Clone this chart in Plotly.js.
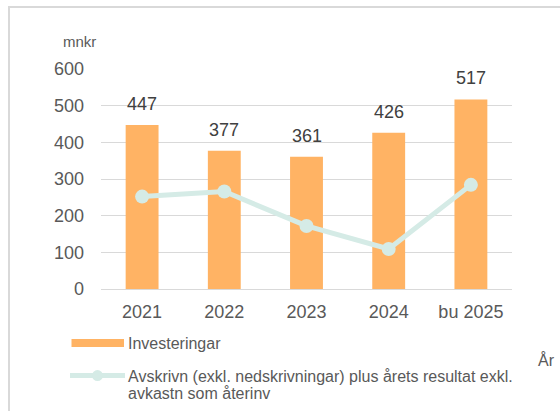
<!DOCTYPE html>
<html>
<head>
<meta charset="utf-8">
<script src="https://cdn.plot.ly/plotly-3.0.1.min.js"></script>
<style>
  html, body { margin: 0; padding: 0; background: #fff; }
  #wrap { position: relative; width: 560px; height: 411px; overflow: hidden; }
  #chart { width: 560px; height: 411px; }
  #frame { position: absolute; left: 8px; top: 6px; width: 600px; height: 500px;
           border-top: 2px solid #d9d9d9; border-left: 2px solid #d9d9d9; pointer-events: none; }
</style>
</head>
<body>
<div id="wrap">
  <div id="chart"></div>
  <div id="frame"></div>
</div>
<script>
// ---- data ----
const categories = ["2021", "2022", "2023", "2024", "bu 2025"];
const investeringar = [447, 377, 361, 426, 517];
const avskrivn = [252, 266, 172, 109, 284];
const seriesNames = ["Investeringar", "Avskrivn (exkl. nedskrivningar) plus årets resultat exkl.", "avkastn som återinv"];
const yTicks = [0, 100, 200, 300, 400, 500, 600];
const yUnit = "mnkr";
const xUnit = "År";

// ---- styles ----
const FONT = "Liberation Sans, Arial, sans-serif";
const barColor = "#FFB364";
const lineColor = "#D5EBE6";
const gridColor = "#D9D9D9";
const tickColor = "#595959";
const labelColor = "#404040";

// plot area in pixels
const L = 101, R = 512, T = 69, B = 289.3;
const px2x = p => (p - L) / (R - L);
const px2y = p => (B - p) / (B - T);

const traces = [
  {
    type: "bar", x: categories, y: investeringar, name: seriesNames[0],
    marker: { color: barColor }, hoverinfo: "skip", showlegend: false
  },
  {
    type: "scatter", mode: "lines+markers", x: categories, y: avskrivn, name: seriesNames[1],
    line: { color: lineColor, width: 5 }, marker: { color: lineColor, size: 14 },
    hoverinfo: "skip", showlegend: false
  }
];

const annotations = categories.map((c, i) => ({
  x: i, y: investeringar[i], xref: "x", yref: "y", text: String(investeringar[i]),
  showarrow: false, yanchor: "bottom", yshift: 9,
  font: { family: FONT, size: 18, color: labelColor }
}));

annotations.push(
  { xref: "paper", yref: "paper", x: px2x(61), y: px2y(41.5), xanchor: "left", yanchor: "middle",
    text: yUnit, showarrow: false, font: { family: FONT, size: 15, color: tickColor } },
  { xref: "paper", yref: "paper", x: px2x(536), y: px2y(360), xanchor: "left", yanchor: "middle",
    text: xUnit, showarrow: false, font: { family: FONT, size: 16, color: tickColor } },
  { xref: "paper", yref: "paper", x: px2x(126), y: px2y(343.5), xanchor: "left", yanchor: "middle",
    text: seriesNames[0], showarrow: false, font: { family: FONT, size: 16, color: tickColor } },
  { xref: "paper", yref: "paper", x: px2x(126), y: px2y(377), xanchor: "left", yanchor: "middle",
    text: seriesNames[1], showarrow: false, font: { family: FONT, size: 16, color: tickColor } },
  { xref: "paper", yref: "paper", x: px2x(126), y: px2y(394), xanchor: "left", yanchor: "middle",
    text: seriesNames[2], showarrow: false, font: { family: FONT, size: 16, color: tickColor } }
);

const shapes = [
  { type: "rect", xref: "paper", yref: "paper", x0: px2x(71.5), x1: px2x(124), y0: px2y(339.3), y1: px2y(347.3),
    fillcolor: barColor, line: { width: 0 } },
  { type: "line", xref: "paper", yref: "paper", x0: px2x(70), x1: px2x(125), y0: px2y(376), y1: px2y(376),
    line: { color: lineColor, width: 5 } },
  { type: "circle", xref: "paper", yref: "paper", xsizemode: "pixel", ysizemode: "pixel",
    xanchor: px2x(97.5), yanchor: px2y(376), x0: -5.5, x1: 5.5, y0: -5.5, y1: 5.5,
    fillcolor: lineColor, line: { width: 0 } }
];

const layout = {
  width: 560, height: 411,
  margin: { l: L, r: 560 - R, t: T, b: 411 - B, pad: 0 },
  paper_bgcolor: "#ffffff", plot_bgcolor: "#ffffff",
  bargap: 0.6,
  showlegend: false,
  font: { family: FONT, color: tickColor },
  xaxis: {
    type: "category", range: [-0.5, categories.length - 0.5],
    showgrid: false, zeroline: false, showline: true, linecolor: gridColor, linewidth: 1,
    ticks: "", ticklabelstandoff: 6, tickfont: { family: FONT, size: 18, color: tickColor }
  },
  yaxis: {
    range: [0, 600], tickvals: yTicks, ticktext: yTicks.map(String),
    showgrid: true, gridcolor: gridColor, gridwidth: 1, zeroline: false, showline: false,
    ticks: "", ticklabelstandoff: 16, tickfont: { family: FONT, size: 18, color: tickColor }
  },
  annotations: annotations,
  shapes: shapes
};

Plotly.newPlot("chart", traces, layout, { staticPlot: true, displayModeBar: false });
</script>
</body>
</html>
